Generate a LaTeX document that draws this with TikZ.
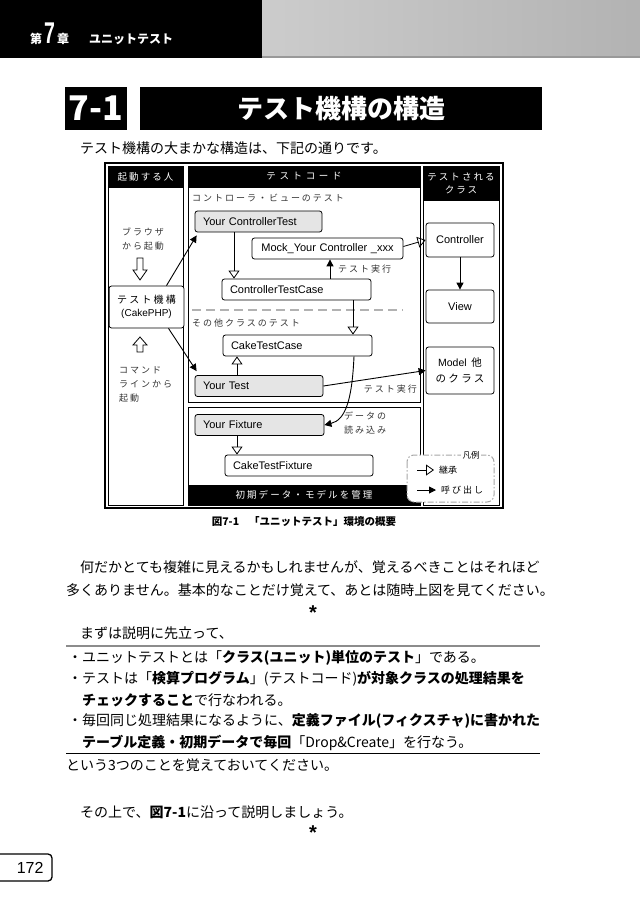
\documentclass[tikz,border=0pt]{standalone}
\usepackage{fontspec}
\usepackage{graphicx}
\setmainfont{Noto Sans CJK JP}
\newfontfamily\lat{Liberation Sans}
\newfontfamily\spaced[LetterSpace=22]{Noto Sans CJK JP}
\newfontfamily\widesp[LetterSpace=38]{Noto Sans CJK JP}
\usetikzlibrary{arrows.meta,positioning}
\XeTeXlinebreaklocale "ja"
\XeTeXlinebreakskip=0pt plus 3pt minus 1pt
\newcommand{\bd}[1]{{\bfseries #1}}

\tikzset{
  box/.style={draw, line width=0.8pt, rounded corners=2.5pt, fill=white, minimum height=21pt,
    inner xsep=8pt, inner ysep=2pt, align=left, font=\lat\fontsize{11}{13}\selectfont},
  greybox/.style={box, fill=black!10},
  classbox/.style={box, minimum width=68pt, align=center},
  inherit/.style={line width=0.8pt, -{Triangle[open, length=8pt, width=11pt, line width=0.8pt]}},
  call/.style={line width=0.9pt, -{Triangle[length=7pt, width=7pt]}},
  panel/.style={draw, line width=0.8pt},
  bar/.style={draw, fill=black},
  bartext/.style={text=white, align=center, font=\spaced\fontsize{9.5}{13}\selectfont},
  note/.style={inner sep=0pt, text=black!80, font=\spaced\fontsize{9}{14}\selectfont},
  body/.style={anchor=west, inner sep=0pt, font=\fontsize{14}{16}\selectfont},
  star/.style={font=\lat\bfseries\fontsize{20}{20}\selectfont, inner sep=0pt},
}

\begin{document}
\begin{tikzpicture}[x=1pt, y=-1pt]
\useasboundingbox (0,0) rectangle (640,908);

% chapter header
\fill[black] (0,0) rectangle (262,58);
\shade[left color=black!20, right color=black!30] (262,0) rectangle (640,57);
\fill[black!40] (262,56) rectangle (640,58);
\node[anchor=base west, inner sep=0pt, text=white, font=\bfseries\fontsize{12}{12}\selectfont] (chap) at (30,43)
  {第\,{\lat\fontsize{30}{30}\selectfont\scalebox{0.65}[1]{7}}\,章\hspace{20pt}ユニットテスト};

% section title
\node[fill=black, minimum width=60pt, minimum height=43pt, text=white,
  font=\bfseries\fontsize{34}{34}\selectfont] (secno) at (96,108.5) {7-1};
\node[fill=black, minimum width=402pt, minimum height=43pt, text=white,
  font=\bfseries\fontsize{26}{26}\selectfont] (sectitle) at (341,108.5) {テスト機構の構造};
\node[body] (intro) at (80,148) {テスト機構の大まかな構造は、下記の通りです。};

% frame and columns
\draw[line width=1.2pt] (105,163) rectangle (503,508);
\draw[panel] (108,166) rectangle (183,505);
\draw[panel] (188,166) rectangle (420,402);
\draw[panel] (188,407) rectangle (420,505);
\draw[panel] (423,166) rectangle (499,505);
\draw[bar] (108,166) rectangle (183,187);
\draw[bar] (188,166) rectangle (420,187);
\draw[bar] (423,166) rectangle (499,200);
\draw[bar] (188,485) rectangle (420,505);
\node[bartext] (hdrA) at (145.5,176.5) {起動する人};
\node[bartext, font=\widesp\fontsize{9.5}{13}\selectfont] (hdrB) at (304,176.5) {テストコード};
\node[bartext] (hdrC) at (461,183) {テストされる\\クラス};
\node[bartext] (hdrD) at (304,495) {初期データ・モデルを管理};

% left column
\node[note, align=center] (browser) at (143,239) {ブラウザ\\から起動};
\draw[line width=0.8pt, fill=white] (137,258) -- (143,258) -- (143,270) -- (147,270) -- (140,280)
  -- (133,270) -- (137,270) -- cycle;
\node[box, minimum width=69pt, minimum height=42pt, align=center, font=\spaced\fontsize{10}{13}\selectfont]
  (mech) at (146.5,307) {テスト機構\\{\lat\fontsize{10}{12}\selectfont(CakePHP)}};
\draw[line width=0.8pt, fill=white] (137,352) -- (143,352) -- (143,345) -- (147,345) -- (140,337)
  -- (133,345) -- (137,345) -- cycle;
\node[note, anchor=north west, align=left] (cmdline) at (119,366) {コマンド\\ラインから\\起動};

% test code column
\node[note, anchor=west] (grpA) at (192,198) {コントローラ・ビューのテスト};
\node[greybox, text width=111pt] (ycTest) at (258.5,221.5) {Your ControllerTest};
\node[box, text width=135pt, align=center] (mock) at (327.5,248.5) {Mock\_Your Controller \_xxx};
\node[box, text width=133pt] (ctCase) at (296.5,289.5) {ControllerTestCase};
\draw[black!30, line width=2pt, dash pattern=on 9pt off 5pt] (192,310) -- (403,310);
\node[note, anchor=west] (grpB) at (192,323) {その他クラスのテスト};
\node[box, text width=133pt] (cakeCase) at (297.5,345.5) {CakeTestCase};
\node[greybox, text width=112pt] (yourTest) at (259,386) {Your Test};
\node[greybox, text width=113pt] (yourFix) at (259.5,425) {Your Fixture};
\node[box, text width=132pt] (cakeFix) at (299,465.5) {CakeTestFixture};

% tested classes
\node[classbox, minimum height=34pt] (ctrl) at (460,240) {Controller};
\node[classbox, minimum height=33pt] (view) at (460,306.5) {View};
\node[classbox, minimum height=47pt, font=\spaced\fontsize{10.5}{16}\selectfont] (model) at (460,370.5)
  {{\lat Model} 他\\のクラス};

% inheritance
\draw[inherit] ([xshift=-24.5pt]ycTest.south) coordinate (i1) -- (i1 |- ctCase.north);
\draw[inherit] ([xshift=56.5pt]ctCase.south) coordinate (i2) -- (i2 |- cakeCase.north);
\draw[inherit] ([xshift=-22pt]yourTest.north) coordinate (i3) -- (i3 |- cakeCase.south);
\draw[inherit] ([xshift=-22.5pt]yourFix.south) coordinate (i4) -- (i4 |- cakeFix.north);
\draw[inherit] ([yshift=2pt]mock.east) -- (ctrl.west);

% calls
\draw[call] ([xshift=20pt]mech.north) -- ([xshift=2pt,yshift=-3pt]ycTest.south west);
\draw[call] ([xshift=22pt]mech.south) -- ([xshift=2pt,yshift=4pt]yourTest.north west);
\draw[call] ([xshift=33.5pt]ctCase.north) coordinate (c1) -- (c1 |- mock.south);
\node[note, anchor=west] (runA) at (338,269) {テスト実行};
\draw[call] (ctrl) -- (view);
\draw[call] (yourTest.east) -- (model.west);
\node[note, anchor=east] (runB) at (417,389) {テスト実行};
\draw[call] ([xshift=56.5pt]cakeCase.south) .. controls +(-2,44) and +(21,-5) .. (yourFix.east);
\node[note, anchor=west, align=left] (load) at (344,423) {データの\\読み込み};

% legend
\draw[gray!70, line width=1pt, dash pattern=on 6pt off 2pt on 1.5pt off 2pt, rounded corners=7pt, fill=white]
  (407,455) rectangle (494,502);
\node[fill=white, inner sep=1.5pt, font=\fontsize{8.5}{10}\selectfont] (lgTitle) at (471,455) {凡例};
\coordinate (lgA) at (417,470);
\coordinate (lgB) at (417,490);
\draw[inherit] (lgA) -- ++(17,0) coordinate (lgA2);
\node[anchor=west, inner sep=0pt, font=\fontsize{9}{10}\selectfont] (lgAt) at ([xshift=5pt]lgA2) {継承};
\draw[call] (lgB) -- ++(19,0) coordinate (lgB2);
\node[anchor=west, inner sep=0pt, font=\spaced\fontsize{9}{10}\selectfont] (lgBt) at ([xshift=5pt]lgB2) {呼び出し};

\node[font=\bfseries\fontsize{10.5}{12}\selectfont] (cap) at (304,522) {図7-1\hspace{10pt}「ユニットテスト」環境の概要};

% body text
\node[body] (p1) at (80,567) {\hbox to 460pt{何だかとても複雑に見えるかもしれませんが、覚えるべきことはそれほど}};
\node[body] (p2) at (66,590) {\hbox to 474pt{多くありません。基本的なことだけ覚えて、あとは随時上図を見てください。}};
\node[star] (starA) at (313,613) {*};
\node[body] (p3) at (80,633) {まずは説明に先立って、};
\draw[black!45, line width=1.2pt] (66,646) -- (540,646);
\node[body] (b1) at (68,658) {・ユニットテストとは「\bd{クラス(ユニット)単位のテスト}」である。};
\node[body] (b2) at (68,679) {\hbox to 472pt{・テストは「\bd{検算プログラム}」(テストコード)\bd{が対象クラスの処理結果を}}};
\node[body] (b2c) at (82,700) {\bd{チェックすること}で行なわれる。};
\node[body] (b3) at (68,721) {\hbox to 472pt{・毎回同じ処理結果になるように、\bd{定義ファイル(フィクスチャ)に書かれた}}};
\node[body] (b3c) at (82,743) {\bd{テーブル定義・初期データで毎回}「Drop\&Create」を行なう。};
\draw[black, line width=1pt] (66,753) -- (540,753);
\node[body] (p4) at (66,765) {という3つのことを覚えておいてください。};
\node[body] (p5) at (80,812) {その上で、\bd{図7-1}に沿って説明しましょう。};
\node[star] (starB) at (313,833) {*};

% page number
\draw[line width=1.3pt, rounded corners=4pt] (-5,854) -- (52,854) -- (52,881) -- (-5,881);
\node[anchor=east, font=\lat\fontsize{16}{16}\selectfont] (pageno) at (47,868) {172};
\end{tikzpicture}
\end{document}
